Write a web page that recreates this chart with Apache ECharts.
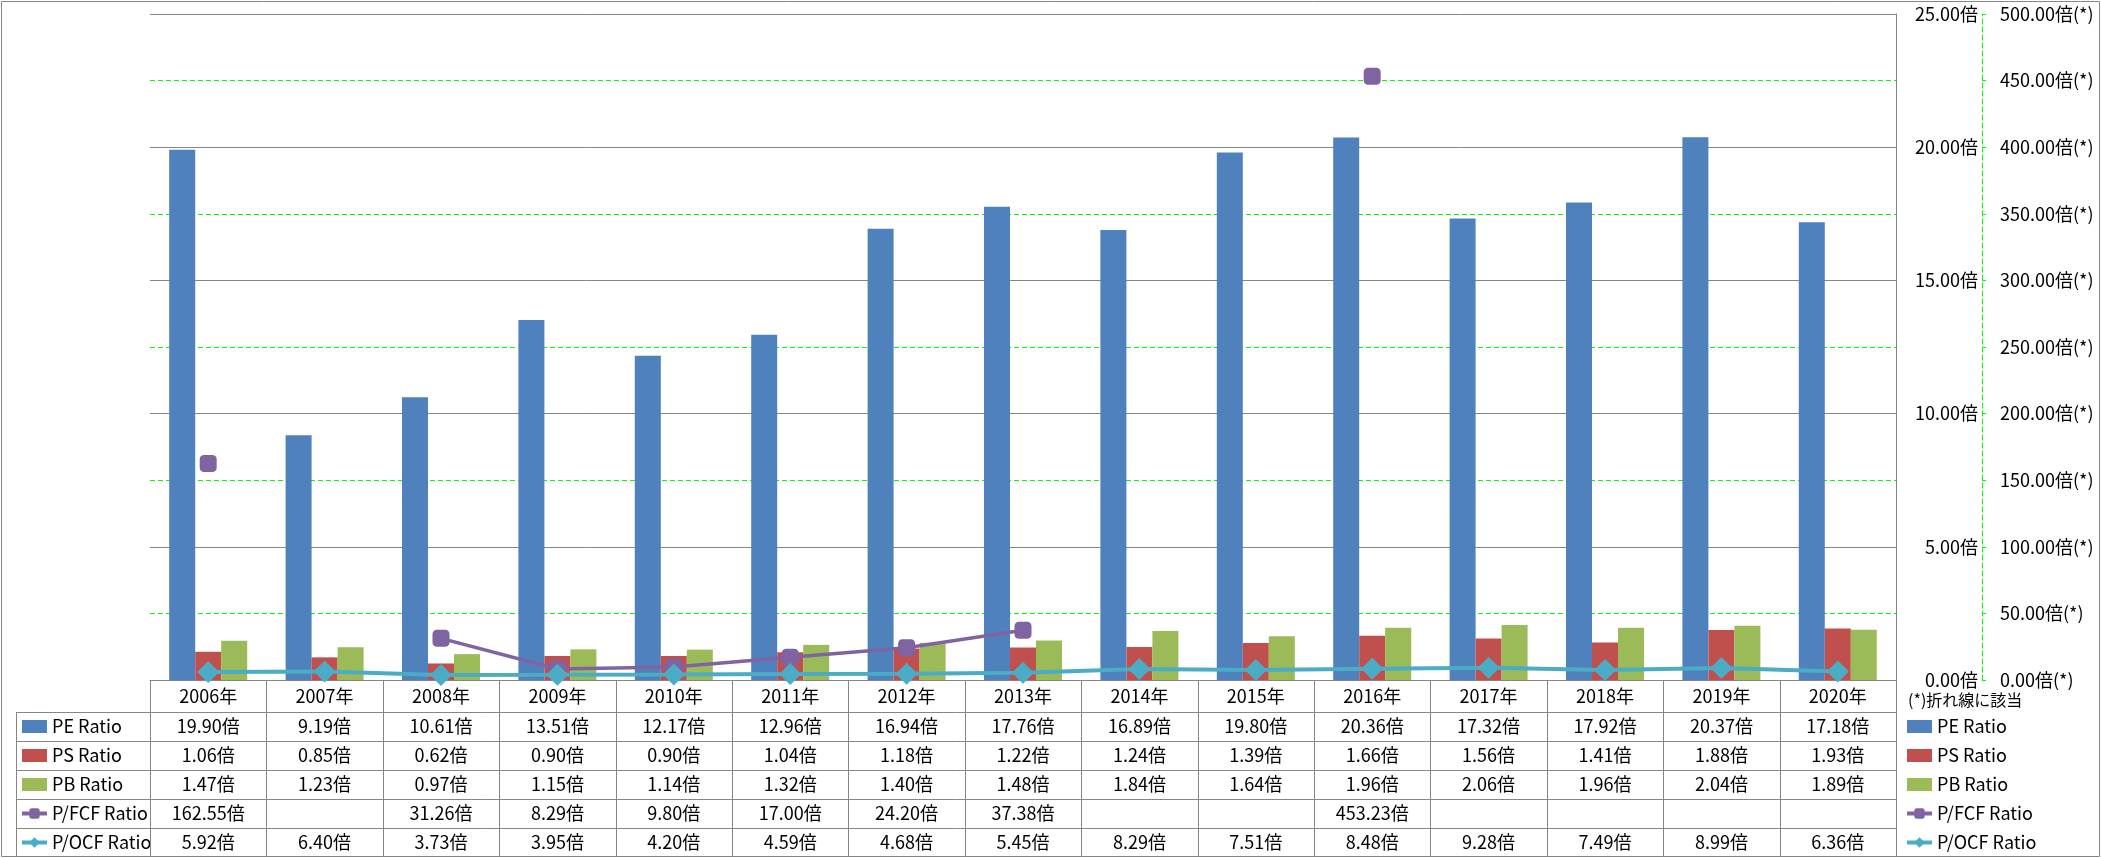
<!DOCTYPE html>
<html>
<head>
<meta charset="utf-8">
<script src="https://cdn.jsdelivr.net/npm/echarts@6/dist/echarts.min.js"></script>
<style>
html,body{margin:0;padding:0;background:#fff;}
#c{width:2101px;height:858px;}
</style>
</head>
<body>
<div id="c"></div>
<script>
const categories = ['2006年','2007年','2008年','2009年','2010年','2011年','2012年','2013年','2014年','2015年','2016年','2017年','2018年','2019年','2020年'];
const peRatio = [19.90, 9.19, 10.61, 13.51, 12.17, 12.96, 16.94, 17.76, 16.89, 19.80, 20.36, 17.32, 17.92, 20.37, 17.18];
const psRatio = [1.06, 0.85, 0.62, 0.90, 0.90, 1.04, 1.18, 1.22, 1.24, 1.39, 1.66, 1.56, 1.41, 1.88, 1.93];
const pbRatio = [1.47, 1.23, 0.97, 1.15, 1.14, 1.32, 1.40, 1.48, 1.84, 1.64, 1.96, 2.06, 1.96, 2.04, 1.89];
const pfcfRatio = [162.55, null, 31.26, 8.29, 9.80, 17.00, 24.20, 37.38, null, null, 453.23, null, null, null, null];
const pocfRatio = [5.92, 6.40, 3.73, 3.95, 4.20, 4.59, 4.68, 5.45, 8.29, 7.51, 8.48, 9.28, 7.49, 8.99, 6.36];
const seriesNames = ['PE Ratio','PS Ratio','PB Ratio','P/FCF Ratio','P/OCF Ratio'];
const barTicks = {min: 0, max: 25, interval: 5};
const lineTicks = {min: 0, max: 500, interval: 50};
const noteText = '(*)折れ線に該当';

const FONT = '"Noto Sans CJK JP", "Noto Sans", sans-serif';
const TXT = '#000000';
const GRAY = '#868686';
const GREEN = '#00FF00';
const W = 2101, H = 858;
const GL = 150, GR = 1896, GT = 14, GB = 680;
const rowEdges = [680, 712, 741, 770, 799, 828, 856];
const rowCenters = rowEdges.slice(0, -1).map((y, i) => (y + rowEdges[i + 1]) / 2);
const colors = ['#4F81BD', '#C0504D', '#9BBB59', '#8064A2', '#4BACC6'];
const fmt = v => (v == null ? '' : v.toFixed(2) + '倍');
const rows = [peRatio, psRatio, pbRatio, pfcfRatio, pocfRatio];

const chart = echarts.init(document.getElementById('c'), null, {renderer: 'canvas'});

const xAxes = [{
  type: 'category', data: categories, position: 'bottom', gridIndex: 0,
  axisLine: {show: true, lineStyle: {color: GRAY, width: 1}},
  axisTick: {show: false},
  axisLabel: {interval: 0, margin: rowCenters[0] - GB, verticalAlign: 'middle', fontSize: 18, color: TXT, fontFamily: FONT}
}];
rows.forEach((arr, i) => {
  xAxes.push({
    type: 'category', data: categories, position: 'bottom', gridIndex: 0,
    axisLine: {show: false}, axisTick: {show: false}, splitLine: {show: false},
    axisLabel: {interval: 0, margin: rowCenters[i + 1] - GB, verticalAlign: 'middle', fontSize: 18, color: TXT, fontFamily: FONT,
      formatter: (v, idx) => fmt(arr[idx])}
  });
});

const colW = (GR - GL) / categories.length;
const graphics = [];
const line = (x1, y1, x2, y2) => graphics.push({type: 'line', silent: true, z: 10,
  shape: {x1, y1, x2, y2}, style: {stroke: GRAY, lineWidth: 1}});
for (let i = 1; i < rowEdges.length; i++) line(16, rowEdges[i] + 0.5, GR + 0.5, rowEdges[i] + 0.5);
for (let i = 0; i <= categories.length; i++) {
  const x = Math.round(GL + i * colW) + 0.5;
  line(x, GB, x, rowEdges[rowEdges.length - 1]);
}
line(16.5, rowEdges[1], 16.5, rowEdges[rowEdges.length - 1]);
graphics.push({type: 'rect', silent: true, z: 10, shape: {x: 1.5, y: 1.5, width: W - 3, height: H - 3},
  style: {fill: 'none', stroke: GRAY, lineWidth: 1}});
graphics.push({type: 'text', silent: true, left: 1908, top: 692,
  style: {text: noteText, font: '16px ' + FONT, fill: TXT}});

const legendData = seriesNames.map((n, i) => i < 3 ? {name: n, icon: 'rect'} : {name: n});
const legendBase = {
  orient: 'vertical', selectedMode: false, itemWidth: 25, itemHeight: 13, itemGap: 9,
  lineStyle: {width: 4},
  textStyle: {fontSize: 18, color: TXT, fontFamily: FONT, lineHeight: 20}, data: legendData, padding: 0
};

const option = {
  animation: false,
  backgroundColor: '#fff',
  textStyle: {fontFamily: FONT},
  grid: {left: GL, right: W - GR, top: GT, bottom: H - GB, containLabel: false, outerBoundsMode: 'none'},
  legend: [
    Object.assign({}, legendBase, {left: 20, top: rowCenters[1] - 10}),
    Object.assign({}, legendBase, {left: 1905, top: rowCenters[1] - 10})
  ],
  xAxis: xAxes,
  yAxis: [
    {
      type: 'value', position: 'right', min: lineTicks.min, max: lineTicks.max, interval: lineTicks.interval, offset: 86,
      axisLine: {show: true, lineStyle: {color: GREEN, type: [5, 3], width: 1}},
      axisTick: {show: true, length: 4, lineStyle: {color: GREEN}},
      splitLine: {show: true, lineStyle: {color: ['transparent', GREEN], type: [5, 3], width: 1}},
      axisLabel: {margin: 18, fontSize: 18, color: TXT, fontFamily: FONT, formatter: v => v.toFixed(2) + '倍(*)'}
    },
    {
      type: 'value', position: 'right', min: barTicks.min, max: barTicks.max, interval: barTicks.interval,
      axisLine: {show: true, lineStyle: {color: GRAY, width: 1}},
      axisTick: {show: false},
      splitLine: {show: true, lineStyle: {color: GRAY, width: 1}},
      axisLabel: {margin: 82, align: 'right', fontSize: 18, color: TXT, fontFamily: FONT, formatter: v => v.toFixed(2) + '倍'}
    }
  ],
  series: [
    {name: seriesNames[0], type: 'bar', data: peRatio, yAxisIndex: 1, barWidth: 26, barGap: '0%', itemStyle: {color: colors[0]}},
    {name: seriesNames[1], type: 'bar', data: psRatio, yAxisIndex: 1, barWidth: 26, barGap: '0%', itemStyle: {color: colors[1]}},
    {name: seriesNames[2], type: 'bar', data: pbRatio, yAxisIndex: 1, barWidth: 26, barGap: '0%', itemStyle: {color: colors[2]}},
    {name: seriesNames[3], type: 'line', data: pfcfRatio, yAxisIndex: 0, connectNulls: false, showAllSymbol: true,
      symbol: 'roundRect', symbolSize: 17, lineStyle: {color: colors[3], width: 3.5}, itemStyle: {color: colors[3]}, z: 3},
    {name: seriesNames[4], type: 'line', data: pocfRatio, yAxisIndex: 0, showAllSymbol: true,
      symbol: 'diamond', symbolSize: 22, lineStyle: {color: colors[4], width: 4}, itemStyle: {color: colors[4]}, z: 4}
  ],
  graphic: graphics
};
chart.setOption(option);
</script>
</body>
</html>
